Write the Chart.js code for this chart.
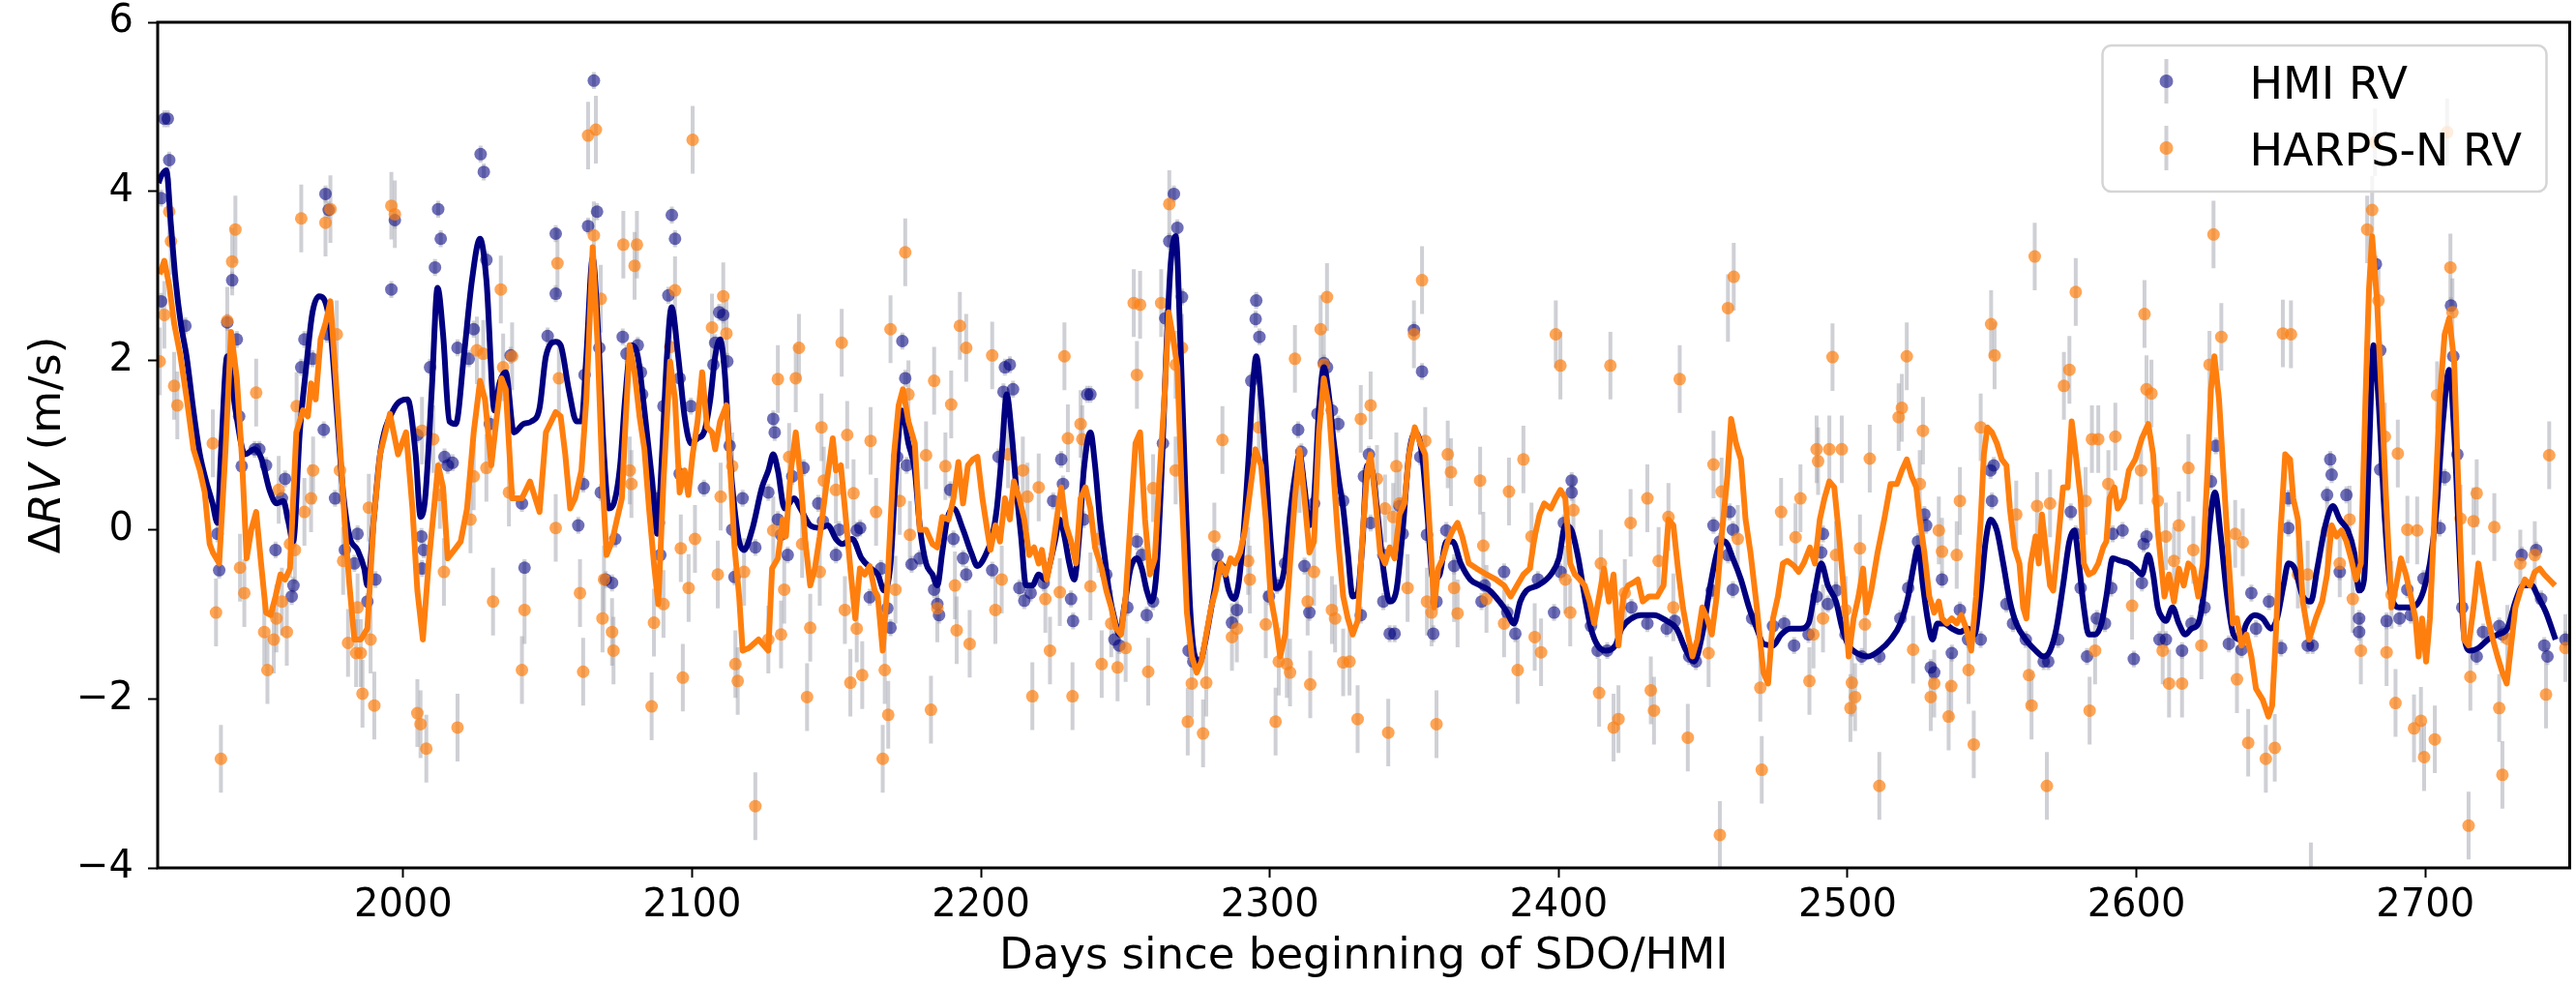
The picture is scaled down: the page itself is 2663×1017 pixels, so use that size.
<!DOCTYPE html>
<html><head><meta charset="utf-8">
<script src="https://cdn.jsdelivr.net/npm/chart.js@4.4.1/dist/chart.umd.min.js"></script>
<style>html,body{margin:0;padding:0;background:#fff;}canvas{display:block;}</style>
</head><body>
<canvas id="c" width="2663" height="1017" style="width:2663px;height:1017px"></canvas>
<script>
// ---------------- data ----------------
const seriesLabels = ['HMI RV', 'HARPS-N RV'];
const xTicks = [2000, 2100, 2200, 2300, 2400, 2500, 2600, 2700];
const yTicks = [-4, -2, 0, 2, 4, 6];
const hmiErr = 0.1;
const harpsErr = 0.4;

const hmiDays = [1917.3,1918.5,1919.0,1916.2,1916.2,1924.6,1935.7,1936.3,1940.8,1939.1,1942.4,1943.2,1944.1,1948.6,1950.2,1952.5,1955.8,1958.0,1959.1,1961.4,1962.0,1964.7,1965.8,1968.6,1973.1,1974.2,1973.6,1972.5,1976.4,1979.8,1984.2,1983.1,1987.6,1990.4,1995.9,1997.1,2004.9,2006.3,2007.1,2006.5,2009.3,2011.0,2012.1,2013.0,2014.3,2015.4,2017.1,2018.8,2022.7,2024.4,2026.8,2027.9,2028.8,2030.0,2037.2,2041.1,2042.0,2050.0,2052.8,2052.8,
2066.0,2067.1,2064.0,2067.9,2062.8,2062.3,2060.6,2068.4,2070.1,2072.3,2073.4,2076.0,2077.3,2081.2,2082.3,2082.7,2093.0,2094.1,2091.8,2090.1,2088.5,2089.0,2087.4,2095.7,2099.6,2095.7,2104.1,2109.4,2110.8,2108.0,2107.4,2112.2,2113.0,2113.9,2114.7,2117.5,2121.9,2126.4,2128.1,2128.6,2129.7,2130.8,2133.1,2134.7,2138.6,2143.7,2145.3,2149.8,2150.9,2157.0,2158.2,2161.5,2165.4,2167.6,2168.7,2171.0,2172.8,2173.8,2174.3,2176.0,2178.8,2183.8,2184.9,2185.5,2189.4,2190.5,
2210.0,2208.3,2211.1,2207.8,2206.1,2203.9,2194.9,2193.8,2213.3,2215.0,2217.2,2221.7,2225.0,2227.8,2228.4,2231.2,2231.9,2236.8,2237.9,2235.6,2243.4,2246.2,2247.9,2250.7,2254.0,2255.7,2257.4,2259.6,2263.0,2263.8,2265.2,2266.8,2268.0,2269.6,2271.9,2273.5,2281.9,2283.0,2286.9,2288.6,2293.6,2295.3,2295.1,2296.4,2299.7,2302.5,2305.3,2309.8,2310.9,2312.0,2313.7,2315.3,2316.5,2318.7,2319.8,2321.5,2323.7,2325.4,
2331.5,2334.3,2332.6,2334.9,2339.3,2339.3,2341.5,2343.2,2344.9,2346.0,2349.9,2352.7,2352.1,2354.4,2356.6,2357.7,2361.1,2363.8,2373.3,2374.4,2381.1,2382.2,2385.0,2392.8,2398.4,2400.6,2401.8,2404.5,2404.5,2411.2,2413.5,2416.8,2425.2,2430.7,2437.4,2440.2,2445.2,2447.5,2453.0,2453.6,2455.8,2458.6,2460.3,2460.3,2459.2,2467.0,
2474.2,2478.1,2481.5,2486.5,2489.3,2490.9,2491.5,2493.2,2496.0,2499.3,2504.9,2511.0,2518.3,2521.0,2524.4,2526.6,2527.2,2528.8,2530.0,2532.7,2536.1,2538.9,2541.7,2546.1,2549.5,2550.6,2550.0,2555.0,2557.3,2561.7,2567.9,2569.5,2572.9,2577.3,2579.0,2580.7,2582.9,2586.3,2589.1,2591.3,2591.8,2595.2,2599.1,2601.9,2602.5,2603.5,2608.0,
2610.2,2615.8,2619.1,2623.6,2625.8,2627.5,2632.0,2636.4,2639.8,2641.4,2645.9,2650.1,2652.6,2652.6,2659.3,2661.0,2666.0,2667.1,2667.6,2672.7,2670.4,2677.1,2677.1,2682.9,2684.4,2684.4,2686.6,2691.1,2693.8,2695.0,2699.4,2705.0,2706.7,2708.9,2709.7,2711.1,2712.8,2717.8,2720.0,2725.6,2726.7,2733.4,2738.4,2740.1,2741.2,2742.3,2748.5];
const hmiRV = [4.86,4.86,4.37,3.92,2.70,2.41,-0.05,-0.48,2.95,2.45,2.25,1.34,0.75,0.95,0.95,0.76,-0.24,0.37,0.60,-0.79,-0.66,1.92,2.25,2.02,3.97,3.78,2.31,1.18,0.37,-0.24,-0.05,-0.40,-0.85,-0.59,2.84,3.66,1.12,-0.08,-0.24,-0.46,1.92,3.10,3.79,3.44,0.86,0.76,0.79,2.15,2.02,2.37,4.44,4.23,3.19,1.25,2.06,0.31,-0.45,2.29,3.50,2.79,
5.31,3.76,3.59,2.15,1.83,0.54,0.05,0.44,-0.59,-0.63,-0.11,2.28,2.08,2.18,1.86,1.60,3.72,3.44,2.77,1.46,0.08,-0.30,0.37,1.79,1.46,0.66,0.49,2.57,2.54,2.21,1.95,1.99,0.99,0.00,-0.56,0.37,-0.21,0.44,1.31,1.15,0.12,-0.06,-0.30,0.63,0.73,0.31,0.10,-0.30,0.00,-0.01,0.02,-0.80,-0.46,-0.93,-1.16,0.86,2.23,1.79,0.76,-0.41,-0.34,-0.71,-0.88,-1.01,0.47,-0.11,
1.95,1.92,1.66,1.63,0.86,-0.48,-0.53,-0.34,-0.69,-0.84,-0.75,-0.63,0.34,0.83,0.54,-0.82,-1.08,1.60,1.60,0.12,-0.53,-1.30,-1.37,-0.92,-0.14,-0.30,-1.01,-0.85,1.02,2.50,3.41,3.97,3.57,2.75,-1.43,-1.56,-0.30,-0.46,-1.10,-0.95,1.76,2.71,2.49,2.28,-0.79,-0.66,-0.40,1.18,0.92,-0.43,-0.98,0.31,1.37,1.97,1.92,1.41,1.25,0.34,
-1.01,0.89,0.63,0.08,-0.30,-0.85,-1.23,-1.23,0.28,-0.05,2.36,1.87,0.86,-0.06,-1.23,-0.85,-0.01,-0.43,-0.85,-0.66,-0.50,-0.98,-1.23,-0.59,-0.98,-0.50,0.08,0.58,0.44,-1.14,-1.43,-1.43,-0.92,-1.11,-1.17,-1.08,-1.50,-1.56,-0.72,0.05,-0.14,-0.30,-0.71,0.00,0.21,-1.05,
-1.14,-1.11,-1.37,-1.24,-0.79,-0.27,-0.05,-0.88,-0.72,-1.24,-1.50,-1.50,-1.05,-0.69,-0.14,0.18,0.05,-1.63,-1.69,-0.59,-1.46,-0.95,-1.30,-1.30,0.70,0.76,0.34,-0.88,-1.11,-1.30,-1.56,-1.56,-1.30,0.21,-0.05,-0.69,-1.50,-1.05,-1.11,-0.69,-0.05,-0.01,-1.53,-0.63,-0.17,-0.08,-1.30,
-1.30,-1.43,-1.11,-0.92,0.57,0.99,-1.35,-1.42,-0.75,-1.17,-0.85,-1.40,0.37,0.02,-1.37,-1.37,0.41,0.83,0.65,0.41,-0.50,-1.21,-1.05,3.14,2.12,0.71,-1.08,-1.05,-0.71,-1.01,-0.58,0.02,0.62,2.65,2.05,0.89,-0.92,-1.50,-1.21,-1.14,-1.24,-0.30,-0.24,-0.82,-1.37,-1.50,-1.30];

const harpsDays = [1915.7,1917.3,1919.0,1919.6,1920.7,1921.8,1934.1,1935.2,1936.9,1939.1,1940.8,1941.9,1943.5,1945.0,1949.1,1951.9,1953.0,1955.2,1956.1,1956.9,1958.0,1959.7,1960.8,1962.5,1963.1,1964.7,1965.8,1968.1,1968.8,1973.1,1974.8,1977.0,1978.1,1979.2,1980.9,1983.7,1984.2,1985.3,1985.9,1988.1,1988.7,1990.0,1995.9,1997.1,2004.9,2006.0,2006.5,2008.0,2010.4,2012.7,2014.1,2018.8,2023.3,2024.4,2025.5,2027.7,2028.8,2031.1,2033.8,2034.6,2036.6,2037.7,2041.1,2042.0,2052.8,2053.4,2053.9,
2064.0,2066.7,2066.0,2068.4,2061.2,2062.3,2069.0,2069.5,2072.3,2072.8,2076.2,2080.1,2080.9,2078.4,2079.0,2086.0,2086.8,2090.1,2092.4,2094.1,2096.1,2096.8,2098.8,2100.2,2101.0,2106.9,2108.9,2109.9,2110.8,2111.9,2113.9,2115.0,2115.8,2118.0,2121.9,2126.4,2128.1,2129.7,2130.8,2131.9,2133.6,2135.9,2137.0,2138.1,2139.8,2140.9,2144.2,2144.8,2145.6,2149.8,2151.8,2152.9,2153.7,2154.8,2155.9,2157.0,2158.9,2161.8,2163.7,2166.0,2166.7,2167.9,2168.7,2170.4,2171.9,2173.8,2174.9,2175.4,2181.0,2182.7,2183.8,2184.9,2187.7,2189.7,2191.0,2191.6,2192.7,
2194.9,2196.1,2203.9,2205.0,2207.2,2209.4,2214.5,2216.1,2217.8,2220.0,2222.3,2223.9,2227.3,2228.9,2230.1,2231.7,2234.5,2235.1,2237.9,2240.7,2241.8,2245.1,2247.3,2250.1,2252.9,2255.1,2254.0,2257.9,2259.6,2262.4,2265.2,2267.4,2267.4,2269.6,2271.6,2273.0,2276.9,2278.0,2280.8,2283.6,2286.9,2288.6,2292.5,2293.1,2296.2,2298.6,2302.0,2303.1,2305.9,2307.0,2308.7,2310.3,2313.1,2314.0,2315.3,2317.6,2318.7,2319.8,2321.5,2322.6,2325.4,2327.6,2330.4,2331.5,
2334.9,2337.1,2339.9,2341.0,2342.7,2343.8,2344.9,2347.7,2349.9,2352.7,2353.8,2354.4,2356.0,2357.7,2361.6,2362.7,2363.8,2365.0,2372.8,2373.9,2375.0,2381.1,2382.8,2385.8,2387.8,2390.6,2391.7,2393.9,2399.0,2400.6,2402.3,2404.0,2405.1,2414.0,2414.6,2417.9,2419.0,2420.7,2422.9,2424.9,2430.7,2431.9,2433.0,2434.6,2438.0,2439.7,2441.9,2444.7,2451.9,2453.6,2455.8,2456.4,2458.6,2460.6,2462.0,2469.8,2470.3,
2477.0,2482.0,2483.7,2486.8,2488.2,2489.3,2489.8,2491.5,2493.7,2494.8,2496.0,2498.0,2499.3,2501.5,2502.6,2501.0,2504.3,2506.0,2507.7,2511.0,2517.7,2518.8,2520.5,2522.7,2525.0,2526.1,2528.8,2530.0,2531.6,2532.7,2535.0,2535.9,2537.8,2538.9,2541.9,2543.7,2546.1,2549.7,2550.9,2558.4,2562.8,2563.7,2564.8,2565.6,2569.0,2570.1,2574.9,2576.8,2579.0,2582.4,2583.8,2584.6,2586.8,2585.7,2590.3,2592.7,2598.5,2601.6,2602.8,2603.5,2605.2,2607.4,
2609.1,2610.2,2611.3,2613.0,2614.7,2615.8,2618.0,2619.7,2622.5,2625.3,2626.7,2629.4,2634.2,2634.8,2636.8,2638.7,2644.8,2647.9,2650.7,2653.5,2655.9,2659.3,2666.0,2670.4,2673.8,2674.9,2677.7,2679.9,2681.6,2683.8,2686.0,2686.6,2688.3,2689.7,2690.5,2693.8,2696.1,2697.2,2698.5,2699.6,2703.3,2704.1,2708.7,2709.4,2712.2,2715.0,2715.6,2716.7,2717.8,2723.9,2725.6,2726.7,2728.4,2732.9,2737.9,2741.8,2742.9,2748.5,2682.6,2707.6,2660.4];
const harpsRV = [1.99,2.54,3.76,3.41,1.70,1.47,1.02,-0.98,-2.71,2.47,3.17,3.55,-0.45,-0.75,1.62,-1.21,-1.66,-1.30,-1.05,0.47,-0.85,-1.21,-0.17,-0.24,1.46,3.68,0.21,0.37,0.70,3.63,3.79,2.31,0.70,-0.37,-1.34,-1.46,-0.92,-1.46,-1.94,0.26,-1.30,-2.08,3.83,3.73,-2.17,-2.30,1.17,-2.59,1.07,0.41,-0.50,-2.34,0.12,0.63,2.12,2.08,0.73,-0.85,2.84,1.92,0.44,2.05,-1.66,-0.95,0.02,3.15,1.79,
4.66,4.73,3.48,2.73,-0.75,-1.68,-1.05,-0.59,-1.21,-1.43,3.37,3.12,3.37,0.70,0.54,-2.09,-1.10,-0.88,2.16,2.83,-0.22,-1.75,-0.69,4.61,-0.11,2.39,-0.53,0.39,2.76,2.32,0.75,-1.59,-1.79,-0.50,-3.27,-1.30,-0.01,1.78,-1.24,-0.71,0.86,1.79,2.15,-0.17,-1.98,-1.16,-0.50,1.21,0.58,0.47,2.21,-0.95,1.12,-1.81,0.43,-1.17,-1.72,1.05,0.21,-2.71,-1.66,-2.19,2.37,-0.71,0.34,3.28,1.60,-0.06,0.88,-2.13,1.76,-0.93,0.75,1.48,-0.66,-1.19,2.41,
2.15,-1.35,2.06,-0.95,-0.59,0.89,0.70,0.39,-1.97,0.50,-0.82,-1.43,-0.74,2.05,1.08,-1.97,1.25,1.07,-0.67,-0.11,-1.59,-1.11,-1.63,-1.40,2.68,2.66,1.83,-1.68,0.49,2.68,3.85,1.95,0.70,2.15,-2.27,-1.82,-2.41,-1.81,-0.08,1.06,-1.27,-1.17,-0.37,-0.59,1.21,-1.12,-2.27,-1.56,-1.59,-1.69,2.02,0.60,-0.85,-1.83,-0.50,2.37,1.95,2.75,-0.95,-1.05,-1.57,-1.56,-2.24,1.31,
1.47,0.60,0.25,-2.40,0.15,0.75,0.31,-0.69,2.31,2.95,1.05,-0.85,-0.98,-2.30,0.89,0.68,-0.69,-0.99,0.58,-0.19,-0.82,-1.11,0.45,-1.66,0.83,-0.08,-1.27,-1.45,2.31,1.94,-0.59,-0.98,0.23,-1.93,-0.40,1.94,-2.34,-2.24,-0.75,0.08,0.37,-1.90,-2.14,-0.37,0.15,-0.92,1.78,-2.46,-1.46,0.77,-3.61,0.45,2.62,2.99,-0.11,-1.87,-2.84,
0.21,-0.09,0.37,-1.79,-1.24,0.95,0.81,-1.05,0.95,2.04,-0.30,0.95,-0.95,-1.81,-1.98,-2.11,-0.22,-1.12,0.84,-3.03,1.33,1.44,2.05,-1.42,0.54,1.17,-1.98,-1.82,-0.01,-0.26,-2.21,-1.85,-0.30,0.34,-1.66,-2.54,1.21,2.43,2.06,0.18,-1.72,-2.08,3.23,0.28,-3.03,0.31,1.70,1.89,2.81,0.34,-2.14,1.07,1.07,-1.43,0.54,1.10,-0.90,0.70,2.55,1.66,1.61,0.34,
-1.43,-0.08,-1.82,-0.37,0.05,-1.82,0.73,-0.24,-1.37,1.95,3.49,2.28,-0.05,-1.77,-0.15,-2.52,-2.71,-2.58,2.32,2.31,-0.53,-0.53,-0.01,-0.40,0.12,-0.82,-1.43,3.55,3.78,2.71,1.10,-1.45,-0.77,-2.05,0.90,0.00,-2.35,-0.01,-2.26,-2.69,-2.48,1.59,3.10,2.57,0.13,-3.50,-1.74,0.10,0.43,0.03,-2.11,-2.90,-1.29,-0.40,-0.30,-1.95,0.88,-1.40,4.58,4.70,-4.10];

const hmiFitDays = [1915.3,1916.2,1918.0,1919.6,1921.2,1923.0,1925.0,1927.4,1929.6,1931.8,1934.0,1935.7,1936.9,1939.1,1942.0,1945.2,1948.5,1950.8,1953.9,1956.2,1958.5,1960.2,1961.9,1964.2,1966.4,1968.6,1970.9,1972.5,1974.8,1977.0,1979.2,1981.4,1984.2,1986.5,1987.6,1989.8,1992.0,1996.5,2001.5,2004.3,2006.0,2007.6,2009.9,2011.9,2013.8,2016.0,2018.2,2021.0,2023.8,2026.6,2028.8,2031.6,2033.3,2035.5,2038.3,2041.6,2044.4,2047.2,2049.4,2052.8,2054.5,2057.3,2060.0,2061.7,2063.4,2065.6,2067.3,2069.5,2071.2,2072.9,2075.1,2076.8,2079.0,2081.2,2083.5,2086.2,2087.9,2089.6,2091.3,2092.9,2095.2,2097.4,2099.6,2101.9,2104.1,2106.3,2108.0,2109.7,2111.3,2113.0,2114.7,2116.3,2118.0,2120.8,2124.2,2126.4,2128.1,2129.7,2132.0,2135.3,2137.5,2140.9,2144.2,2147.0,2149.8,2152.0,2155.4,2158.7,2162.0,2164.3,2166.5,2168.7,2170.4,2172.6,2174.9,2177.1,2178.8,2181.0,2183.2,2184.9,2186.6,2188.3,2190.5,2193.8,2196.6,2198.8,2201.6,2203.9,2205.5,2207.2,2208.9,2210.6,2212.2,2213.9,2215.6,2217.8,2220.0,2222.3,2223.9,2225.6,2227.3,2228.9,2230.6,2232.3,2234.0,2235.6,2237.9,2239.5,2241.2,2242.9,2244.6,2246.2,2247.9,2249.6,2251.8,2254.0,2255.7,2257.4,2259.0,2260.7,2262.4,2264.1,2265.7,2267.4,2269.1,2270.8,2272.4,2274.1,2275.8,2277.4,2279.1,2280.8,2282.5,2284.1,2285.8,2287.5,2289.1,2290.8,2292.5,2294.2,2295.3,2297.0,2298.6,2300.3,2302.0,2303.6,2305.3,2307.0,2308.7,2310.3,2312.0,2313.7,2315.3,2317.0,2318.7,2320.4,2322.0,2323.7,2325.4,2327.0,2328.7,2330.4,2332.1,2333.7,2335.4,2337.1,2339.3,2341.5,2343.8,2346.0,2348.2,2350.5,2352.7,2354.4,2356.6,2358.8,2361.1,2363.3,2366.1,2369.4,2372.8,2376.1,2379.5,2382.2,2384.5,2386.7,2388.9,2392.8,2397.3,2400.1,2402.3,2404.5,2406.8,2409.0,2411.2,2413.5,2416.2,2419.6,2421.8,2425.2,2428.5,2433.0,2437.4,2440.8,2444.1,2446.9,2449.7,2452.5,2455.3,2457.5,2460.3,2463.1,2465.9,2468.6,2470.9,2474.2,2477.0,2480.3,2483.7,2486.5,2488.7,2490.9,2493.2,2496.0,2498.2,2500.4,2503.2,2507.1,2511.0,2514.9,2518.3,2521.0,2522.7,2524.4,2526.1,2527.7,2529.4,2531.1,2533.3,2536.1,2538.9,2541.7,2543.9,2546.1,2547.8,2549.5,2551.7,2553.9,2556.2,2558.4,2561.7,2565.1,2567.9,2570.1,2572.3,2574.6,2576.8,2578.5,2580.1,2581.8,2583.5,2585.7,2587.9,2589.6,2591.8,2594.6,2597.4,2599.6,2601.9,2604.1,2605.8,2607.4,2609.1,2610.2,2612.5,2614.7,2616.9,2619.1,2621.4,2623.6,2625.3,2627.2,2629.2,2631.4,2633.6,2635.9,2638.1,2640.9,2643.7,2646.5,2648.7,2650.9,2652.6,2654.8,2657.6,2660.4,2662.6,2665.4,2668.0,2670.4,2673.2,2675.4,2677.1,2678.8,2680.5,2682.1,2683.8,2686.0,2688.3,2691.1,2694.4,2697.2,2699.4,2701.6,2703.9,2706.1,2708.3,2710.0,2711.7,2713.4,2715.6,2718.4,2721.7,2725.1,2728.4,2731.2,2733.9,2736.8,2739.0,2741.8,2745.1];
const hmiFitRV = [4.10,4.18,4.25,3.60,2.95,2.44,2.05,1.40,0.89,0.57,0.31,0.08,0.89,2.05,1.40,0.89,0.95,0.85,0.45,0.31,0.34,0.10,-0.14,1.15,1.92,2.57,2.76,2.73,2.37,1.41,0.44,-0.08,-0.24,-0.46,-0.66,0.12,0.89,1.41,1.54,0.89,0.15,0.37,1.66,2.86,2.31,1.28,1.25,2.05,2.95,3.44,2.95,1.41,1.73,1.86,1.15,1.25,1.28,1.44,2.05,2.22,2.18,1.66,1.28,1.28,2.05,3.21,2.44,0.89,0.25,0.31,0.76,1.54,2.18,2.05,1.41,0.57,-0.05,0.89,2.05,2.63,2.05,1.34,1.02,1.08,1.15,1.54,2.05,2.25,1.86,0.89,0.25,-0.14,-0.24,0.00,0.50,0.70,0.89,0.70,0.25,0.37,0.25,0.05,0.02,0.05,-0.11,-0.17,-0.11,-0.34,-0.46,-0.53,-0.72,-0.40,0.57,1.41,1.02,0.70,0.05,-0.40,-0.53,-0.66,-0.27,0.12,0.25,0.00,-0.27,-0.43,-0.30,-0.08,0.25,0.89,1.60,1.15,0.50,-0.08,-0.66,-0.66,-0.53,-0.59,-0.40,-0.14,0.12,-0.08,-0.40,-0.59,-0.08,0.70,1.15,0.76,0.12,-0.34,-0.79,-1.05,-1.24,-0.92,-0.46,-0.34,-0.46,-0.72,-0.85,-0.53,0.57,2.05,3.15,3.47,2.18,0.44,-0.92,-1.50,-1.56,-1.37,-1.05,-0.72,-0.40,-0.46,-0.72,-0.82,-0.66,-0.08,0.76,1.73,2.05,1.54,0.76,-0.14,-0.69,-0.66,-0.40,0.18,0.63,0.89,0.50,0.05,0.37,1.41,1.92,1.60,1.08,0.63,0.25,-0.27,-0.79,-0.75,-0.14,0.76,0.70,0.25,-0.46,-0.85,-0.72,-0.01,0.89,1.15,0.89,0.25,-0.59,-0.53,-0.14,-0.14,-0.40,-0.59,-0.66,-0.72,-0.85,-0.98,-1.11,-0.85,-0.72,-0.66,-0.53,-0.34,0.05,-0.01,-0.34,-0.79,-1.17,-1.37,-1.43,-1.37,-1.17,-1.05,-1.01,-1.01,-1.08,-1.17,-1.43,-1.56,-1.24,-0.66,-0.21,-0.14,-0.34,-0.59,-0.92,-1.17,-1.35,-1.37,-1.24,-1.17,-1.17,-1.11,-0.72,-0.40,-0.66,-0.85,-1.17,-1.37,-1.46,-1.50,-1.43,-1.30,-1.11,-0.79,-0.46,-0.21,-0.66,-1.05,-1.30,-1.11,-1.11,-1.17,-1.21,-1.17,-1.24,-0.72,-0.14,0.12,-0.01,-0.40,-0.85,-1.11,-1.30,-1.43,-1.50,-1.43,-1.17,-0.66,-0.14,-0.01,-0.40,-0.92,-1.24,-1.24,-1.11,-0.79,-0.34,-0.37,-0.40,-0.46,-0.53,-0.30,-0.53,-0.92,-1.05,-1.08,-0.92,-1.11,-1.24,-1.17,-1.11,-0.66,0.05,0.44,-0.08,-0.79,-1.24,-1.30,-1.11,-1.01,-1.05,-1.17,-1.05,-0.66,-0.40,-0.46,-0.79,-0.85,-0.46,0.05,0.28,0.12,-0.01,-0.27,-0.72,-0.59,0.89,2.18,1.54,0.12,-0.79,-0.92,-0.92,-0.88,-0.72,-0.40,0.25,1.28,1.89,1.15,-0.14,-1.24,-1.43,-1.40,-1.30,-1.24,-1.17,-0.85,-0.66,-0.66,-0.79,-0.98,-1.30];

const harpsFitDays = [1915.7,1917.3,1919.0,1920.7,1922.9,1925.1,1927.4,1929.6,1931.3,1933.0,1934.1,1936.3,1938.5,1940.4,1942.4,1944.1,1945.8,1947.4,1949.1,1950.8,1952.5,1954.1,1955.8,1957.5,1959.1,1960.8,1963.0,1965.3,1967.0,1968.1,1969.7,1971.4,1973.1,1974.8,1976.4,1978.1,1979.8,1981.4,1983.1,1985.3,1987.6,1989.8,1992.0,1995.4,1998.2,2001.0,2003.2,2004.9,2006.8,2008.8,2012.1,2013.8,2015.4,2017.7,2019.9,2022.1,2024.4,2026.6,2028.3,2030.5,2032.2,2034.0,2035.5,2037.7,2041.1,2043.9,2047.2,2049.4,2052.8,2054.5,2056.1,2057.8,2059.5,2061.7,2063.4,2064.5,2065.6,2067.3,2069.0,2070.4,2072.3,2074.0,2075.7,2076.8,2078.4,2080.1,2081.8,2083.5,2085.1,2086.8,2088.3,2090.1,2092.4,2094.1,2095.7,2097.4,2098.7,2100.2,2101.9,2103.5,2105.2,2106.9,2108.0,2109.7,2111.9,2113.6,2114.7,2116.3,2117.5,2119.7,2123.0,2126.4,2127.7,2129.7,2131.4,2132.5,2134.2,2135.9,2137.5,2139.2,2140.9,2142.5,2144.2,2146.4,2148.7,2149.8,2151.5,2153.1,2154.8,2156.5,2158.1,2159.8,2161.5,2163.2,2164.3,2166.0,2167.6,2169.9,2171.5,2173.0,2174.9,2177.1,2178.8,2181.0,2183.2,2184.9,2186.6,2188.8,2190.5,2192.2,2193.8,2195.5,2197.2,2198.8,2200.5,2202.2,2203.3,2205.0,2206.6,2208.3,2210.0,2211.4,2213.3,2215.0,2216.7,2218.4,2220.0,2221.1,2222.8,2224.5,2226.2,2227.8,2229.5,2231.2,2232.9,2234.5,2236.2,2237.9,2239.5,2241.8,2243.4,2245.1,2246.8,2248.5,2250.1,2251.8,2253.5,2255.1,2256.8,2258.5,2260.2,2261.8,2263.5,2265.0,2266.3,2268.0,2269.6,2271.3,2273.0,2274.7,2276.3,2278.0,2279.7,2281.3,2283.0,2284.7,2286.4,2288.0,2289.7,2291.4,2293.1,2295.0,2297.0,2298.6,2300.3,2302.0,2303.6,2305.3,2307.0,2308.7,2310.3,2312.0,2313.7,2315.3,2317.0,2318.7,2320.4,2322.0,2323.7,2325.4,2327.0,2328.7,2330.4,2332.1,2333.7,2334.9,2336.5,2338.2,2339.9,2341.5,2343.2,2344.9,2346.6,2348.2,2350.2,2352.1,2353.8,2355.5,2356.9,2358.3,2359.9,2361.6,2363.3,2365.0,2366.6,2368.9,2371.6,2375.0,2378.3,2381.1,2383.4,2385.6,2387.8,2390.0,2391.7,2393.4,2395.0,2397.3,2399.0,2400.6,2402.3,2404.0,2405.6,2407.3,2409.0,2410.7,2412.3,2414.0,2415.7,2417.4,2419.0,2420.7,2422.4,2424.0,2425.7,2427.4,2429.1,2431.3,2434.1,2436.3,2438.0,2439.7,2441.3,2443.0,2444.7,2446.3,2448.0,2449.7,2451.4,2453.0,2454.7,2456.4,2458.4,2459.7,2461.4,2463.1,2464.7,2466.4,2468.6,2470.3,2470.9,2472.5,2474.2,2475.9,2477.6,2479.2,2481.5,2483.1,2484.8,2487.0,2488.7,2490.4,2492.0,2493.7,2495.4,2497.1,2498.7,2500.4,2502.1,2503.8,2505.4,2506.5,2508.2,2510.4,2512.7,2514.9,2517.1,2518.8,2520.5,2522.2,2523.8,2525.0,2526.6,2528.3,2530.0,2531.6,2532.7,2534.4,2536.1,2537.8,2539.4,2541.1,2542.8,2544.5,2546.1,2547.2,2548.4,2550.0,2551.7,2553.4,2555.0,2556.2,2557.8,2559.5,2560.8,2561.9,2563.4,2565.1,2566.2,2567.3,2569.0,2570.1,2571.2,2572.9,2574.6,2576.2,2577.6,2579.0,2580.7,2581.8,2583.5,2585.2,2586.8,2588.5,2589.6,2590.7,2592.4,2593.5,2595.7,2597.4,2599.6,2601.9,2604.1,2605.8,2607.4,2609.1,2609.7,2611.3,2613.0,2614.7,2616.4,2618.0,2619.7,2621.4,2623.0,2624.7,2625.8,2627.0,2628.6,2630.3,2632.0,2633.4,2634.8,2636.4,2638.1,2639.8,2641.4,2643.7,2645.7,2647.0,2648.1,2649.8,2651.5,2653.2,2654.3,2655.9,2657.6,2659.8,2662.1,2664.3,2666.0,2667.6,2669.3,2671.0,2672.7,2674.3,2676.0,2677.7,2679.3,2680.5,2681.6,2683.3,2684.9,2686.6,2688.3,2689.9,2691.6,2693.3,2695.0,2696.6,2697.7,2698.9,2700.3,2701.6,2703.3,2705.0,2706.7,2708.3,2710.0,2711.7,2713.4,2715.0,2716.7,2718.4,2720.0,2721.7,2723.4,2725.0,2726.7,2728.2,2729.5,2731.2,2732.9,2734.5,2736.2,2737.9,2739.6,2741.2,2742.9,2744.9];
const harpsFitRV = [3.02,3.18,2.89,2.44,2.05,1.54,0.95,0.70,0.44,-0.17,-0.27,-0.40,0.95,2.34,1.79,0.89,-0.34,0.00,0.21,-0.40,-0.98,-1.01,-0.79,-0.53,-0.59,-0.46,1.15,1.41,1.34,1.73,1.54,2.25,2.44,2.70,1.92,1.02,0.05,-0.66,-1.30,-1.30,-1.17,0.12,0.89,1.37,0.89,1.15,0.25,-0.72,-1.30,-0.40,0.76,0.50,-0.34,-0.24,-0.14,0.25,1.15,1.76,1.54,0.76,1.28,1.79,1.66,0.37,0.37,0.57,0.21,1.15,1.39,1.34,0.89,0.25,0.37,0.70,1.54,2.44,3.34,2.18,0.57,-0.30,-0.14,0.12,0.37,1.15,2.18,1.86,1.34,0.95,0.25,-0.40,-0.88,0.57,1.99,1.54,0.44,0.70,0.41,0.89,1.28,1.86,1.21,1.15,0.95,1.28,1.47,0.50,-0.21,-0.79,-1.43,-1.40,-1.30,-1.43,-0.46,-0.34,0.12,-0.08,0.70,1.15,0.63,-0.14,-0.66,-0.46,-0.08,0.50,1.08,0.70,0.76,0.18,-0.46,-1.05,-0.46,-0.53,-0.43,-0.72,-0.79,-1.43,-0.66,0.89,1.47,1.66,1.28,1.02,0.00,0.00,-0.17,-0.21,0.15,0.12,0.37,0.80,0.31,0.76,0.83,0.86,0.37,-0.01,-0.24,0.05,-0.14,0.37,0.12,0.57,0.37,0.12,-0.30,-0.21,-0.40,-0.24,-0.59,-0.30,0.12,0.50,0.05,-0.14,-0.40,0.37,0.50,0.25,-0.21,-0.46,-0.72,-0.92,-1.17,-1.24,-0.79,0.12,1.02,1.15,0.12,-0.53,-0.34,0.63,1.54,2.57,2.31,1.92,0.37,-0.98,-1.50,-1.69,-1.56,-1.24,-0.92,-0.72,-0.40,-0.53,-0.34,-0.40,-0.27,-0.01,0.44,0.95,0.76,0.12,-0.79,-1.11,-1.50,-1.24,-0.40,0.37,0.95,0.37,-0.27,-0.14,1.15,1.79,1.47,0.70,-0.14,-0.79,-1.05,-1.24,-1.08,-0.08,0.70,0.89,0.37,-0.27,-0.40,-0.21,-0.34,0.18,0.31,0.89,1.21,1.02,0.89,-0.08,-0.92,-0.46,-0.34,-0.14,-0.01,0.08,-0.08,-0.40,-0.46,-0.53,-0.59,-0.66,-0.79,-0.66,-0.53,-0.46,-0.08,0.18,0.31,0.25,0.37,0.47,0.37,-0.40,-0.53,-0.59,-0.66,-0.85,-1.11,-0.79,-0.46,-0.85,-0.53,-1.37,-0.79,-0.66,-0.63,-0.59,-0.85,-0.79,-0.79,-0.66,0.12,0.05,-0.46,-0.92,-1.24,-1.50,-1.30,-0.92,-1.05,-1.24,-0.79,-0.08,0.63,1.31,1.02,0.83,0.12,-0.27,-0.92,-1.50,-1.69,-1.82,-1.05,-0.79,-0.40,-0.37,-0.43,-0.50,-0.40,-0.21,-0.40,0.12,0.37,0.57,0.50,-0.08,-0.72,-1.50,-1.05,-0.79,-0.46,-0.98,-0.72,-0.27,0.12,0.54,0.54,0.70,0.83,0.63,0.50,0.12,-0.27,-0.79,-0.98,-0.85,-1.05,-1.11,-1.05,-1.11,-1.01,-1.17,-1.43,-0.79,0.12,0.89,1.21,1.15,1.02,0.83,0.76,0.25,-0.21,-0.40,-0.92,-1.05,-0.40,-0.08,-0.40,0.18,-0.34,-0.66,-0.72,-0.14,0.50,0.50,1.28,0.89,0.37,-0.40,-0.53,-0.50,-0.40,-0.21,-0.14,0.37,0.50,0.25,0.37,0.70,0.83,1.08,1.25,0.89,-0.01,-0.59,-0.79,-0.53,-0.85,-0.46,-0.66,-0.40,-0.46,-0.79,-0.40,0.76,1.66,2.05,1.54,0.57,-0.40,-1.11,-1.05,-1.37,-1.24,-1.50,-1.88,-2.01,-2.21,-2.08,-1.37,-0.08,0.89,0.83,0.37,0.12,-0.85,-1.30,-1.05,-0.85,-0.53,0.05,-0.08,-0.01,-0.14,-0.34,-0.59,-0.40,1.54,2.83,3.47,2.70,1.54,0.25,-0.92,-0.66,-0.34,-0.53,-0.79,-1.05,-1.50,-1.05,-1.56,-1.05,0.25,1.54,2.31,2.50,1.99,0.25,-1.30,-1.37,-0.92,-0.40,-0.72,-1.05,-1.30,-1.50,-1.69,-1.82,-1.43,-0.92,-0.72,-0.59,-0.66,-0.50,-0.46,-0.53,-0.59,-0.66];

// ---------------- styling / drawing ----------------
const FONT = '"DejaVu Sans", sans-serif';
const NAVY = '#000080';
const ORANGE = '#ff7f0e';
const HMI_PT = 'rgba(0,0,128,0.57)';
const HARPS_PT = 'rgba(255,127,14,0.7)';
const BAR = 'rgba(160,162,172,0.5)';
const pts = (xs, ys) => xs.map((x, i) => ({x: x, y: ys[i]}));
const fmt = v => (v < 0 ? '\u2212' + Math.abs(v) : String(v));

const errorBars = {
  id: 'errorBars',
  beforeDatasetsDraw(chart) {
    const {ctx, chartArea: a, scales: {x, y}} = chart;
    ctx.save();
    ctx.beginPath(); ctx.rect(a.left, a.top, a.right - a.left, a.bottom - a.top); ctx.clip();
    ctx.lineWidth = 4; ctx.strokeStyle = BAR; ctx.lineCap = 'butt';
    const draw = (xs, ys, e) => {
      for (let i = 0; i < xs.length; i++) {
        const px = x.getPixelForValue(xs[i]);
        ctx.beginPath();
        ctx.moveTo(px, y.getPixelForValue(ys[i] - e));
        ctx.lineTo(px, y.getPixelForValue(ys[i] + e));
        ctx.stroke();
      }
    };
    draw(hmiDays, hmiRV, hmiErr);
    draw(harpsDays, harpsRV, harpsErr);
    ctx.restore();
  }
};

const decor = {
  id: 'decor',
  afterDraw(chart) {
    const {ctx, chartArea: a} = chart;
    ctx.save();
    ctx.strokeStyle = '#000'; ctx.lineWidth = 3;
    ctx.strokeRect(a.left, a.top, a.right - a.left, a.bottom - a.top);
    ctx.fillStyle = '#000';
    ctx.font = '45px ' + FONT;
    ctx.textAlign = 'center'; ctx.textBaseline = 'alphabetic';
    ctx.fillText('Days since beginning of SDO/HMI', (a.left + a.right) / 2, 1001);
    const parts = [['\u0394', '45px ' + FONT], ['RV', 'italic 45px ' + FONT], [' (m/s)', '45px ' + FONT]];
    let total = 0;
    parts.forEach(p => { ctx.font = p[1]; total += ctx.measureText(p[0]).width; });
    ctx.translate(62, (a.top + a.bottom) / 2);
    ctx.rotate(-Math.PI / 2);
    ctx.textAlign = 'left';
    let cx = -total / 2;
    parts.forEach(p => { ctx.font = p[1]; ctx.fillText(p[0], cx, 0); cx += ctx.measureText(p[0]).width; });
    ctx.setTransform(1, 0, 0, 1, 0, 0);
    const lw = 459, lh = 151, lx = a.right - 24 - lw, ly = a.top + 24;
    ctx.beginPath();
    ctx.roundRect(lx, ly, lw, lh, 9);
    ctx.fillStyle = 'rgba(255,255,255,0.8)'; ctx.fill();
    ctx.lineWidth = 2.5; ctx.strokeStyle = '#d5d5d5'; ctx.stroke();
    const entries = [[seriesLabels[0], HMI_PT, ly + 37], [seriesLabels[1], HARPS_PT, ly + 106]];
    entries.forEach(([label, col, cy]) => {
      const mx = lx + 66;
      ctx.beginPath(); ctx.moveTo(mx, cy - 23); ctx.lineTo(mx, cy + 23);
      ctx.lineWidth = 4; ctx.strokeStyle = BAR; ctx.stroke();
      ctx.beginPath(); ctx.arc(mx, cy, 7, 0, Math.PI * 2); ctx.fillStyle = col; ctx.fill();
      ctx.fillStyle = '#000'; ctx.font = '46px ' + FONT;
      ctx.textAlign = 'left'; ctx.textBaseline = 'alphabetic';
      ctx.fillText(label, lx + 152, cy + 18);
    });
    ctx.restore();
  }
};

const tickGrid = {display: true, drawOnChartArea: false, drawTicks: true, tickLength: 10, tickWidth: 2, tickColor: '#000', color: '#000'};

new Chart(document.getElementById('c'), {
  type: 'scatter',
  data: {
    datasets: [
      {label: 'HARPS-N fit', data: pts(harpsFitDays, harpsFitRV), showLine: true, borderColor: ORANGE, borderWidth: 6, pointRadius: 0, borderJoinStyle: 'round', tension: 0, order: 0, clip: 0},
      {label: 'HMI fit', data: pts(hmiFitDays, hmiFitRV), showLine: true, borderColor: NAVY, borderWidth: 6, pointRadius: 0, borderJoinStyle: 'round', cubicInterpolationMode: 'monotone', order: 1, clip: 0},
      {label: seriesLabels[1], data: pts(harpsDays, harpsRV), pointRadius: 6.5, pointBorderWidth: 0, backgroundColor: HARPS_PT, borderColor: 'rgba(0,0,0,0)', order: 2, clip: 0},
      {label: seriesLabels[0], data: pts(hmiDays, hmiRV), pointRadius: 6.5, pointBorderWidth: 0, backgroundColor: HMI_PT, borderColor: 'rgba(0,0,0,0)', order: 3, clip: 0}
    ]
  },
  options: {
    responsive: false, animation: false, devicePixelRatio: 1,
    layout: {padding: {left: 0, top: 23, right: 4, bottom: 0}},
    plugins: {legend: {display: false}, tooltip: {enabled: false}},
    scales: {
      x: {
        type: 'linear', min: 1915, max: 2750,
        afterBuildTicks: s => { s.ticks = xTicks.map(v => ({value: v})); },
        afterFit: s => { s.height = 120; },
        ticks: {font: {family: FONT, size: 40, lineHeight: 1}, color: '#000', padding: 10, maxRotation: 0, autoSkip: false, callback: v => String(v)},
        grid: tickGrid, border: {display: false}
      },
      y: {
        type: 'linear', min: -4, max: 6,
        afterBuildTicks: s => { s.ticks = yTicks.map(v => ({value: v})); },
        afterFit: s => { s.width = 163; s.paddingTop = 0; s.paddingBottom = 0; },
        ticks: {font: {family: FONT, size: 40, lineHeight: 0.5}, color: '#000', padding: 15, autoSkip: false, callback: v => fmt(v)},
        grid: tickGrid, border: {display: false}
      }
    }
  },
  plugins: [errorBars, decor]
});
</script>
</body></html>
